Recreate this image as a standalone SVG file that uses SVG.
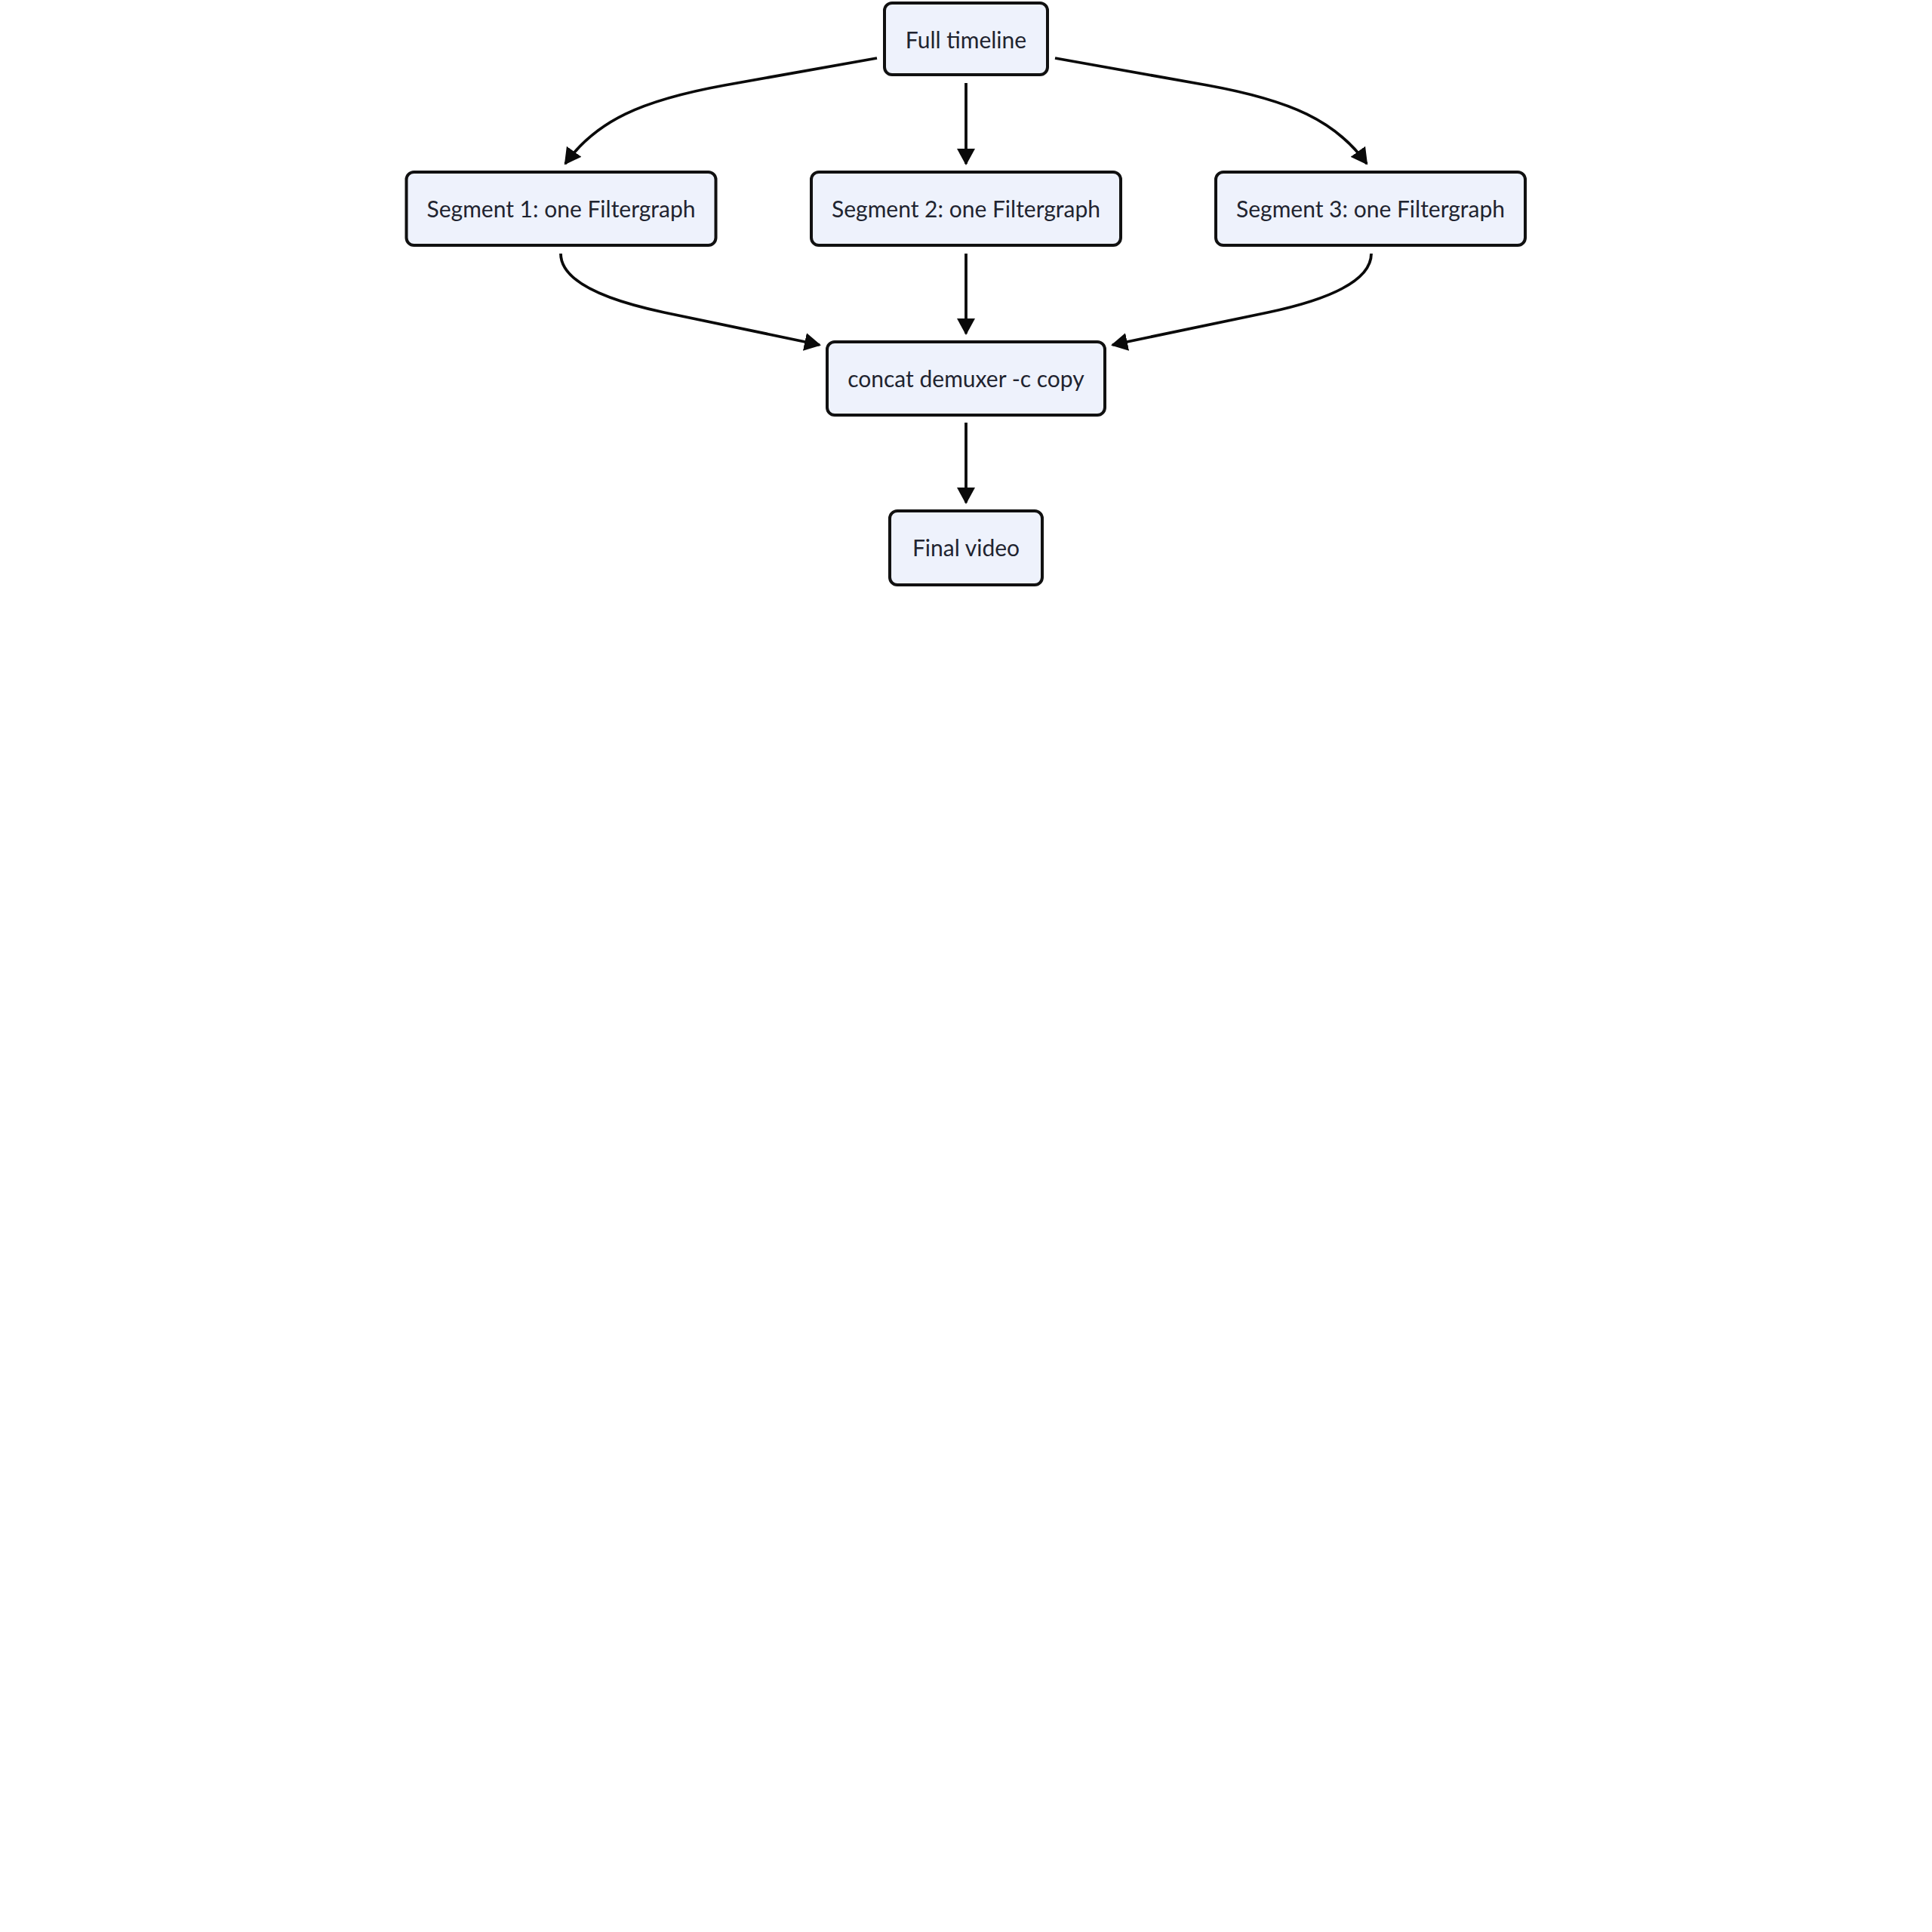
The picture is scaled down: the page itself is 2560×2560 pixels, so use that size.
<svg xmlns="http://www.w3.org/2000/svg" width="2560" height="2560" viewBox="0 0 2560 2560">
  <defs>
    <style>
      .node rect { fill: #EEF2FC; stroke: #111111; stroke-width: 4; }
      .node text { font-family: Lato, "Noto Sans", "Liberation Sans", sans-serif; font-size: 30px; fill: #1F2430; text-anchor: middle; }
      .edge { fill: none; stroke: #0A0A0A; stroke-width: 3.8; marker-end: url(#arr); }
    </style>
    <marker id="arr" viewBox="0 0 22 24" refX="20" refY="12" markerWidth="22" markerHeight="24" orient="auto" markerUnits="userSpaceOnUse">
      <path d="M0,0 L22,12 L0,24 z" fill="#0A0A0A"/>
    </marker>
  </defs>
  <rect width="2560" height="2560" fill="#FFFFFF"/>

  <g id="connectors">
    <path class="edge" d="M1162,77 L960,113 C850,133 790,160 749,217"/>
    <path class="edge" d="M1280,110 L1280,217"/>
    <path class="edge" d="M1398,77 L1600,113 C1710,133 1770,160 1811,217"/>
    <path class="edge" d="M743,336 C743,372 800,397 880,414 L1086,457"/>
    <path class="edge" d="M1280,336 L1280,442"/>
    <path class="edge" d="M1817,336 C1817,372 1760,397 1680,414 L1474,457"/>
    <path class="edge" d="M1280,560 L1280,666"/>
  </g>

  <g id="node-full" class="node">
    <rect x="1172" y="4" width="216" height="95" rx="10"/>
    <text x="1280" y="64">Full timeline</text>
  </g>
  <g id="node-seg1" class="node">
    <rect x="538.5" y="228" width="410" height="97" rx="10"/>
    <text x="743.5" y="288">Segment 1: one Filtergraph</text>
  </g>
  <g id="node-seg2" class="node">
    <rect x="1075" y="228" width="410" height="97" rx="10"/>
    <text x="1280" y="288">Segment 2: one Filtergraph</text>
  </g>
  <g id="node-seg3" class="node">
    <rect x="1611" y="228" width="410" height="97" rx="10"/>
    <text x="1816" y="288">Segment 3: one Filtergraph</text>
  </g>
  <g id="node-concat" class="node">
    <rect x="1096" y="453" width="368" height="97" rx="10"/>
    <text x="1280" y="513">concat demuxer -c copy</text>
  </g>
  <g id="node-final" class="node">
    <rect x="1179" y="677" width="202" height="98" rx="10"/>
    <text x="1280" y="737">Final video</text>
  </g>
</svg>
